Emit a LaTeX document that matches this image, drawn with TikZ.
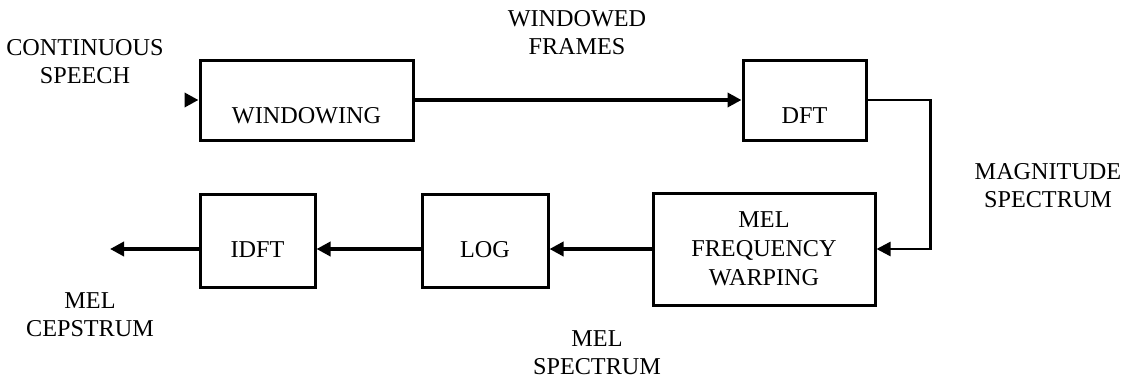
\documentclass[tikz,border=0pt]{standalone}
\usepackage{fontspec}
\setmainfont{Liberation Serif}
\usetikzlibrary{arrows.meta}

\begin{document}
\begin{tikzpicture}[
    x=1pt, y=-1pt,
    every node/.style={font=\fontsize{24.2}{28}\selectfont},
    box/.style={rectangle, draw=black, line width=3pt, inner sep=0pt},
    lowtext/.style={text height=#1, text depth=0pt},
    tag/.style={align=center, inner sep=0pt},
    arrow/.style={-{Triangle[length=14pt, width=14pt]}, line width=4pt},
    link/.style={-{Triangle[length=14pt, width=14pt]}, line width=2.5pt}
]
\useasboundingbox (0,0) rectangle (1130,380);

% Top row
\node[box, minimum width=213pt, minimum height=80pt, lowtext=47pt] (win) at (306.5,100) {WINDOWING\hspace{22pt}};
\node[box, minimum width=123pt, minimum height=80pt, lowtext=47pt] (dft) at (804.5,100) {DFT};

% Bottom row
\node[box, minimum width=222pt, minimum height=112pt, align=center, font=\fontsize{24.2}{29}\selectfont] (mel) at (764,249) {MEL\\FREQUENCY\\WARPING};
\node[box, minimum width=126pt, minimum height=93pt, lowtext=34pt] (log) at (485,240.5) {LOG};
\node[box, minimum width=115pt, minimum height=93pt, lowtext=34pt] (idft) at (257.5,240.5) {IDFT};

% Labels
\node[tag] (speech) at (85,62) {CONTINUOUS\\SPEECH};
\node[tag] (frames) at (577,33) {WINDOWED\\FRAMES};
\node[tag] (mag) at (1048,186) {MAGNITUDE\\SPECTRUM};
\node[tag] (melspec) at (597,353) {MEL\\SPECTRUM};
\node[tag] (ceps) at (90,315) {MEL\\CEPSTRUM};

% Arrows
\coordinate (start) at (186,100);
\coordinate (stop) at (110,249);
\draw[arrow] (start) -- (win.west);
\draw[arrow] (win) -- (dft);
\draw[link] (dft.east) -- ++(63,0) |- (mel.east);
\draw[arrow] (mel.west) -- (log.east |- mel.west);
\draw[arrow] (log.west |- mel.west) -- (idft.east |- mel.west);
\draw[arrow] (idft.west |- mel.west) -- (stop);

\end{tikzpicture}
\end{document}
